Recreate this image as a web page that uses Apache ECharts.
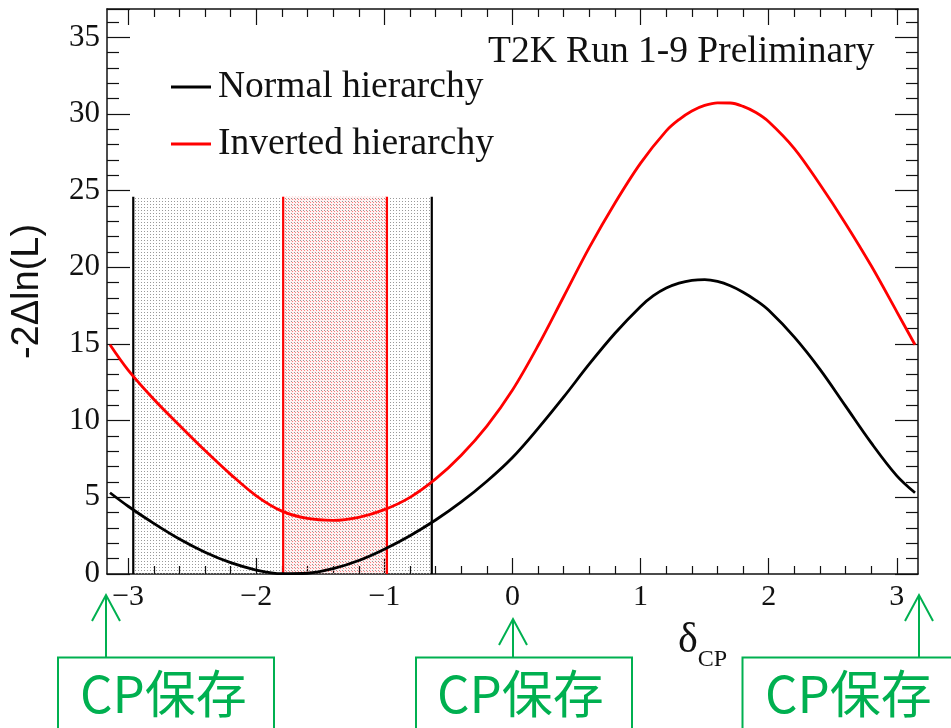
<!DOCTYPE html>
<html><head><meta charset="utf-8">
<script src="https://cdn.jsdelivr.net/npm/echarts@6/dist/echarts.min.js"></script>
<style>html,body{margin:0;padding:0;background:#fff}#c{width:951px;height:728px}</style>
</head><body><div id="c"></div>
<script>
// ---- data ----
const deltaNH = [-3.1416,-3.0,-2.8,-2.6,-2.4,-2.2,-2.0,-1.8,-1.6,-1.4,-1.2,-1.0,-0.8,-0.6,-0.4,-0.2,0.0,0.2,0.4,0.6,0.8,1.0,1.1,1.2,1.3,1.4,1.5,1.6,1.7,1.8,1.9,2.0,2.2,2.4,2.6,2.8,3.0,3.1416];
const chi2NH  = [5.3,4.42,3.3,2.28,1.42,0.74,0.26,0.02,0.05,0.35,0.88,1.62,2.5,3.52,4.7,6.05,7.6,9.5,11.55,13.7,15.7,17.45,18.15,18.65,18.97,19.15,19.2,19.08,18.8,18.38,17.85,17.2,15.45,13.35,10.95,8.55,6.4,5.3];
const deltaIH = [-3.1416,-3.0,-2.8,-2.6,-2.4,-2.2,-2.0,-1.8,-1.6,-1.4,-1.2,-1.0,-0.8,-0.6,-0.4,-0.2,0.0,0.2,0.4,0.6,0.8,1.0,1.2,1.3,1.4,1.5,1.6,1.7,1.8,1.9,2.0,2.2,2.4,2.6,2.8,3.0,3.1416];
const chi2IH  = [14.95,13.3,11.4,9.7,8.05,6.5,5.1,4.1,3.62,3.5,3.7,4.2,5.0,6.2,7.75,9.65,12.0,14.9,18.1,21.3,24.2,26.8,28.9,29.64,30.2,30.56,30.73,30.72,30.5,30.1,29.5,27.75,25.4,22.85,20.1,17.1,14.95];
const nhInterval = [-2.96, -0.63];
const ihInterval = [-1.79, -0.98];
const intervalTop = 24.6;
const seriesNames = ['Normal hierarchy', 'Inverted hierarchy'];
const xMajorTicks = [-3, -2, -1, 0, 1, 2, 3];
const xRange = [-3.165, 3.165];
const yRange = [0, 36.85];
const yStep = 5;
const titleText = 'T2K Run 1-9 Preliminary';
const yTitle = '-2\u0394ln(L)';
const noteText = 'CP保存';

// minor x ticks every 0.2
const xMinorTicks = [];
for (let k = -15; k <= 15; k++) { if (k % 5 !== 0) xMinorTicks.push(+(k * 0.2).toFixed(1)); }

function zip(a, b) { return a.map((v, i) => [v, b[i]]); }
function dotPattern(color, fill, ox, oy) {
  const c = document.createElement('canvas'); c.width = 3; c.height = 3;
  const g = c.getContext('2d');
  if (fill) { g.fillStyle = fill; g.fillRect(0, 0, 3, 3); }
  g.fillStyle = color; g.fillRect(ox, oy, 1, 1);
  return c;
}

const serif = '"Liberation Serif", "Times New Roman", serif';
const axisLineStyle = { color: '#111', width: 1.5 };
const chart = echarts.init(document.getElementById('c'), null, { renderer: 'canvas' });
const minus = v => String(v).replace('-', '\u2212');

function xAx(pos, ticks, len, showLabel, showLine) {
  return {
    type: 'value', position: pos, min: xRange[0], max: xRange[1], gridIndex: 0,
    axisLine: { show: showLine, onZero: false, lineStyle: axisLineStyle },
    axisTick: { show: true, inside: true, length: len, customValues: ticks, lineStyle: { color: '#111', width: 1.2 } },
    axisLabel: { show: showLabel, customValues: ticks, margin: 8, fontSize: 30, fontFamily: serif, color: '#111', formatter: minus },
    splitLine: { show: false }
  };
}
function yAx(pos, showLabel) {
  return {
    type: 'value', position: pos, min: yRange[0], max: yRange[1], interval: yStep,
    axisLine: { show: true, onZero: false, lineStyle: axisLineStyle },
    axisTick: { show: true, inside: true, length: 23, lineStyle: { color: '#111', width: 1.2 } },
    minorTick: { show: true, splitNumber: 5, length: 12, lineStyle: { color: '#111', width: 1.2 } },
    axisLabel: { show: showLabel, margin: 7, fontSize: 31, fontFamily: serif, color: '#111' },
    splitLine: { show: false }, minorSplitLine: { show: false }
  };
}

const bottomMajor = xAx('bottom', xMajorTicks, 16, true, true);
bottomMajor.name = '{d|\u03b4}{s|CP}';
bottomMajor.nameLocation = 'middle';
bottomMajor.nameGap = 44;
bottomMajor.nameTextStyle = { padding: [0, 0, 0, 380], rich: {
  d: { fontSize: 42, fontFamily: serif, color: '#111', verticalAlign: 'bottom', lineHeight: 44 },
  s: { fontSize: 24, fontFamily: serif, color: '#111', verticalAlign: 'bottom', lineHeight: 44, padding: [0, 0, -10, 0] } } };

const yLeft = yAx('left', true);
yLeft.name = yTitle;
yLeft.nameLocation = 'middle';
yLeft.nameGap = 60;
yLeft.nameTextStyle = { fontSize: 38, fontFamily: '"Liberation Sans", Arial, sans-serif', color: '#111' };

const green = '#00b050';
function arrow(x, tipY) {
  return [
    { type: 'line', shape: { x1: x, y1: 657.5, x2: x, y2: tipY + 1 }, style: { stroke: green, lineWidth: 2 } },
    { type: 'polyline', shape: { points: [[x - 14, tipY + 26], [x, tipY], [x + 14, tipY + 26]] }, style: { stroke: green, lineWidth: 2, fill: null } }
  ];
}
function box(x, w, tx) {
  return [
    { type: 'rect', shape: { x: x, y: 657.5, width: w, height: 100 }, style: { stroke: green, lineWidth: 2, fill: null } },
    { type: 'text', x: tx, y: 694, style: { text: noteText, fill: green, fontSize: 51, fontFamily: '"Noto Sans CJK SC", sans-serif', verticalAlign: 'middle', align: 'left' } }
  ];
}

chart.setOption({
  animation: false,
  backgroundColor: '#fff',
  grid: { left: 107, right: 33, top: 9, bottom: 154, containLabel: false },
  title: { text: titleText, left: 488, top: 33, padding: 0,
    textStyle: { fontSize: 37.5, fontWeight: 'normal', fontFamily: serif, color: '#111' } },
  legend: {
    data: seriesNames, orient: 'vertical', left: 171, top: 67, padding: 0,
    itemWidth: 40, itemHeight: 3, itemGap: 17, icon: 'rect',
    textStyle: { fontSize: 37.5, fontFamily: serif, color: '#111', lineHeight: 40, padding: [0, 0, 0, 2] }
  },
  xAxis: [bottomMajor, xAx('top', xMajorTicks, 16, false, true), xAx('bottom', xMinorTicks, 8, false, false), xAx('top', xMinorTicks, 8, false, false)],
  yAxis: [yLeft, yAx('right', false)],
  series: [
    { name: 'NH 1σ region', type: 'line', data: [], silent: true,
      markArea: { silent: true, itemStyle: { color: { image: dotPattern('#999', null, 0, 0), repeat: 'repeat' } },
        data: [[{ coord: [nhInterval[0], 0] }, { coord: [nhInterval[1], intervalTop] }]] } },
    { name: 'IH 1σ region', type: 'line', data: [], silent: true,
      markArea: { silent: true, itemStyle: { color: { image: dotPattern('#ff8080', 'rgba(255,0,0,0.05)', 1, 1), repeat: 'repeat' } },
        data: [[{ coord: [ihInterval[0], 0] }, { coord: [ihInterval[1], intervalTop] }]] } },
    { name: 'nhL', type: 'line', data: [[nhInterval[0], 0], [nhInterval[0], intervalTop]], showSymbol: false, lineStyle: { color: '#000', width: 2.2 }, silent: true },
    { name: 'nhR', type: 'line', data: [[nhInterval[1], 0], [nhInterval[1], intervalTop]], showSymbol: false, lineStyle: { color: '#000', width: 2.2 }, silent: true },
    { name: 'ihL', type: 'line', data: [[ihInterval[0], 0], [ihInterval[0], intervalTop]], showSymbol: false, lineStyle: { color: '#ff0000', width: 2.2 }, silent: true },
    { name: 'ihR', type: 'line', data: [[ihInterval[1], 0], [ihInterval[1], intervalTop]], showSymbol: false, lineStyle: { color: '#ff0000', width: 2.2 }, silent: true },
    { name: seriesNames[0], type: 'line', data: zip(deltaNH, chi2NH), smooth: 0.35, showSymbol: false,
      itemStyle: { color: '#000' }, lineStyle: { color: '#000', width: 2.8 }, z: 5 },
    { name: seriesNames[1], type: 'line', data: zip(deltaIH, chi2IH), smooth: 0.35, showSymbol: false,
      itemStyle: { color: '#ff0000' }, lineStyle: { color: '#ff0000', width: 2.8 }, z: 5 }
  ],
  graphic: [].concat(
    box(58, 216, 80), box(416, 216, 437), box(742.5, 260, 765),
    arrow(106, 595), arrow(513, 619), arrow(919, 595)
  )
});
</script></body></html>
